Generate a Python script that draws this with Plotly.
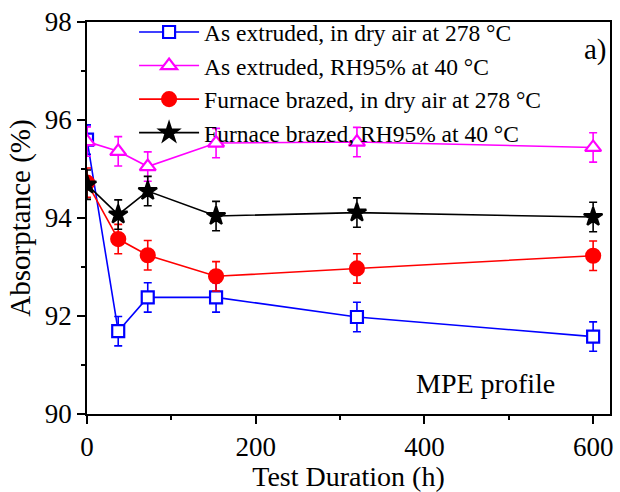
import plotly.graph_objects as go

hours = [0, 37, 72, 153, 320, 600]
as_ext_dry = [95.6, 91.69, 92.38, 92.38, 91.98, 91.58]
as_ext_rh = [95.56, 95.36, 95.05, 95.53, 95.55, 95.44]
furn_dry = [94.72, 93.57, 93.24, 92.81, 92.97, 93.23]
furn_rh = [94.68, 94.07, 94.55, 94.04, 94.11, 94.02]
err_as_dry = [0.3, 0.3, 0.3, 0.3, 0.3, 0.3]
err_as_rh = [0.3, 0.3, 0.3, 0.3, 0.3, 0.3]
err_f_dry = [0.3, 0.3, 0.3, 0.3, 0.3, 0.3]
err_f_rh = [0.3, 0.3, 0.3, 0.3, 0.3, 0.3]
names = ["As extruded, in dry air at 278 °C", "As extruded, RH95% at 40 °C",
         "Furnace brazed, in dry air at 278 °C", "Furnace brazed, RH95% at 40 °C"]

FONT = "'Liberation Serif', 'Times New Roman', Times, serif"
fig = go.Figure()

def add(y, err, name, color, symbol, size, fill):
    fig.add_trace(go.Scatter(
        x=hours, y=y, name=name, mode="lines+markers",
        line=dict(color=color, width=1.6),
        marker=dict(symbol=symbol, size=size, color=fill,
                    line=dict(color=color, width=2.2)),
        error_y=dict(type="data", array=err, visible=True, color=color,
                     thickness=1.6, width=4),
    ))

add(as_ext_dry, err_as_dry, names[0], "#0000FF", "square", 12, "white")
add(as_ext_rh, err_as_rh, names[1], "#FF00FF", "triangle-up", 14, "white")
add(furn_dry, err_f_dry, names[2], "#FF0000", "circle", 14, "#FF0000")
add(furn_rh, err_f_rh, names[3], "#000000", "star", 14, "#000000")

axis_common = dict(
    showline=True, linecolor="black", linewidth=1.5, mirror=True,
    ticks="outside", ticklen=8, tickwidth=1.5, tickcolor="black",
    showgrid=False, zeroline=False,
    tickfont=dict(family=FONT, size=27, color="black"),
)

fig.update_xaxes(range=[0, 620], dtick=200, tick0=0,
                 title=dict(text="Test Duration (h)", font=dict(family=FONT, size=28, color="black"), standoff=0),
                 minor=dict(dtick=100, ticks="outside", ticklen=4, tickwidth=1.5, tickcolor="black"),
                 **axis_common)
fig.update_yaxes(range=[90, 98], dtick=2, tick0=90,
                 title=dict(text="Absorptance (%)", font=dict(family=FONT, size=29, color="black"), standoff=6),
                 minor=dict(dtick=1, ticks="outside", ticklen=4, tickwidth=1.5, tickcolor="black"),
                 **axis_common)

fig.update_layout(
    width=620, height=492,
    margin=dict(l=87, r=7, t=20, b=78),
    paper_bgcolor="white", plot_bgcolor="white",
    font=dict(family=FONT, color="black"),
    legend=dict(x=0.09, y=1.03, xanchor="left", yanchor="top",
                bgcolor="rgba(0,0,0,0)", borderwidth=0,
                font=dict(family=FONT, size=23.5, color="black"),
                itemwidth=60, tracegroupgap=0),
    showlegend=True,
    annotations=[
        dict(text="MPE profile", x=0.762, y=0.079, xref="paper", yref="paper",
             xanchor="center", yanchor="middle",
             showarrow=False, font=dict(family=FONT, size=28, color="black")),
        dict(text="a)", x=0.973, y=0.93, xref="paper", yref="paper",
             xanchor="center", yanchor="middle",
             showarrow=False, font=dict(family=FONT, size=29, color="black")),
    ],
)

fig.write_html("out.html", config={"displayModeBar": False},
               post_script="document.body.style.margin='0';document.body.style.padding='0';")
